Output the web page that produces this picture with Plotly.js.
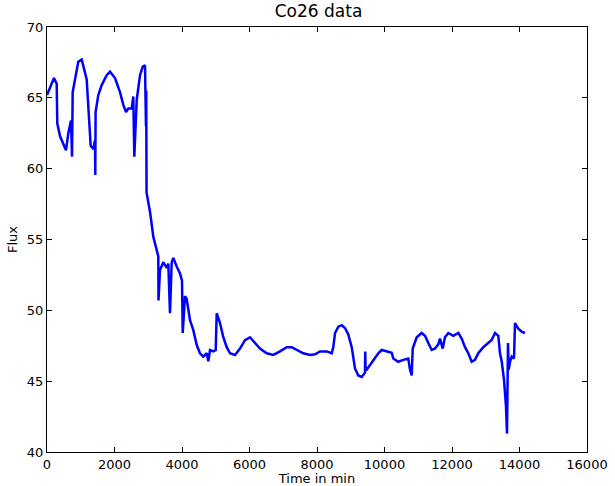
<!DOCTYPE html>
<html>
<head>
<meta charset="utf-8">
<script src="https://cdn.plot.ly/plotly-3.0.1.min.js"></script>
<style>html,body{margin:0;padding:0;background:#fff;}#chart{width:615px;height:486px;}</style>
</head>
<body>
<div id="chart"></div>
<script>
const timeMin = [0,207,287,305,385,483,563,631,711,741,761,830,927,1028,1076,1176,1206,1253,1295,1372,1422,1431,1440,1520,1621,1769,1867,2015,2163,2261,2341,2409,2510,2557,2587,2658,2756,2836,2904,2933,2940,2950,3052,3150,3250,3298,3304,3348,3446,3547,3594,3644,3695,3742,3843,3941,4000,4021,4089,4139,4237,4335,4436,4533,4631,4732,4780,4830,4928,4999,5028,5126,5224,5325,5422,5570,5719,5867,6015,6163,6311,6509,6705,6904,7102,7250,7398,7594,7793,7941,8089,8287,8436,8483,8534,8631,8732,8830,8927,9028,9126,9224,9324,9422,9430,9440,9473,9668,9816,9917,10065,10213,10261,10409,10557,10705,10756,10806,10836,10954,11102,11200,11298,11398,11496,11594,11644,11724,11792,11890,12038,12187,12287,12385,12483,12583,12681,12779,12927,13075,13176,13274,13372,13422,13472,13541,13600,13630,13659,13680,13719,13769,13837,13867,13964,14065,14163];
const flux = [65.2,66.4,66.0,63.2,62.3,61.7,61.3,62.5,63.4,60.85,65.4,66.3,67.55,67.7,67.3,66.3,65.1,63.4,61.6,61.4,62.0,59.55,64.0,65.2,65.9,66.6,66.85,66.4,65.4,64.5,64.0,64.25,64.25,65.1,60.85,64.85,66.6,67.2,67.3,63.0,65.5,58.3,56.96,55.2,54.3,53.8,50.7,52.85,53.4,53.0,53.3,49.8,53.4,53.7,53.1,52.6,52.1,48.4,51.0,50.8,49.3,48.6,47.55,46.97,46.73,46.97,46.4,47.2,47.1,47.2,49.8,49.1,48.1,47.4,46.97,46.85,47.3,47.9,48.1,47.7,47.3,46.97,46.85,47.1,47.4,47.4,47.2,46.97,46.85,46.9,47.1,47.1,46.97,47.4,48.4,48.85,48.95,48.75,48.3,47.4,45.9,45.4,45.3,45.6,47.1,45.8,45.8,46.5,46.97,47.2,47.1,47.0,46.6,46.37,46.5,46.6,45.8,45.4,47.3,48.1,48.4,48.2,47.7,47.2,47.3,47.6,48.0,47.3,48.1,48.4,48.2,48.4,48.0,47.4,46.97,46.37,46.5,46.97,47.4,47.7,47.9,48.4,48.2,46.97,46.4,45.1,43.2,41.3,47.7,45.8,46.37,46.73,46.6,49.1,48.7,48.5,48.4];
const xTicks = [0,2000,4000,6000,8000,10000,12000,14000,16000];
const yTicks = [40,45,50,55,60,65,70];

const font = {family: 'DejaVu Sans, sans-serif', size: 13, color: '#000'};
const axisCommon = {
  showline: true, linecolor: '#000', linewidth: 1, mirror: 'ticks',
  ticks: 'inside', ticklen: 5, tickwidth: 1, tickcolor: '#000',
  showgrid: false, zeroline: false, tickfont: font
};
Plotly.newPlot('chart', [{
  x: timeMin, y: flux, type: 'scatter', mode: 'lines',
  line: {color: '#0000ff', width: 2.5}
}], {
  width: 615, height: 486,
  margin: {l: 47, r: 28, t: 27, b: 34},
  paper_bgcolor: '#fff', plot_bgcolor: '#fff',
  showlegend: false,
  title: {text: 'Co26 data', font: {family: 'DejaVu Sans, sans-serif', size: 17, color: '#000'}, x: 0.518, xanchor: 'center', y: 0.99, yanchor: 'top'},
  xaxis: Object.assign({}, axisCommon, {range: [0, 16000], tickvals: xTicks, ticktext: xTicks.map(String),
    title: {text: 'Time in min', font: font, standoff: 2}}),
  yaxis: Object.assign({}, axisCommon, {range: [40, 70], tickvals: yTicks, ticktext: yTicks.map(String),
    title: {text: 'Flux', font: font, standoff: 6}})
}, {displayModeBar: false, staticPlot: true});
</script>
</body>
</html>
